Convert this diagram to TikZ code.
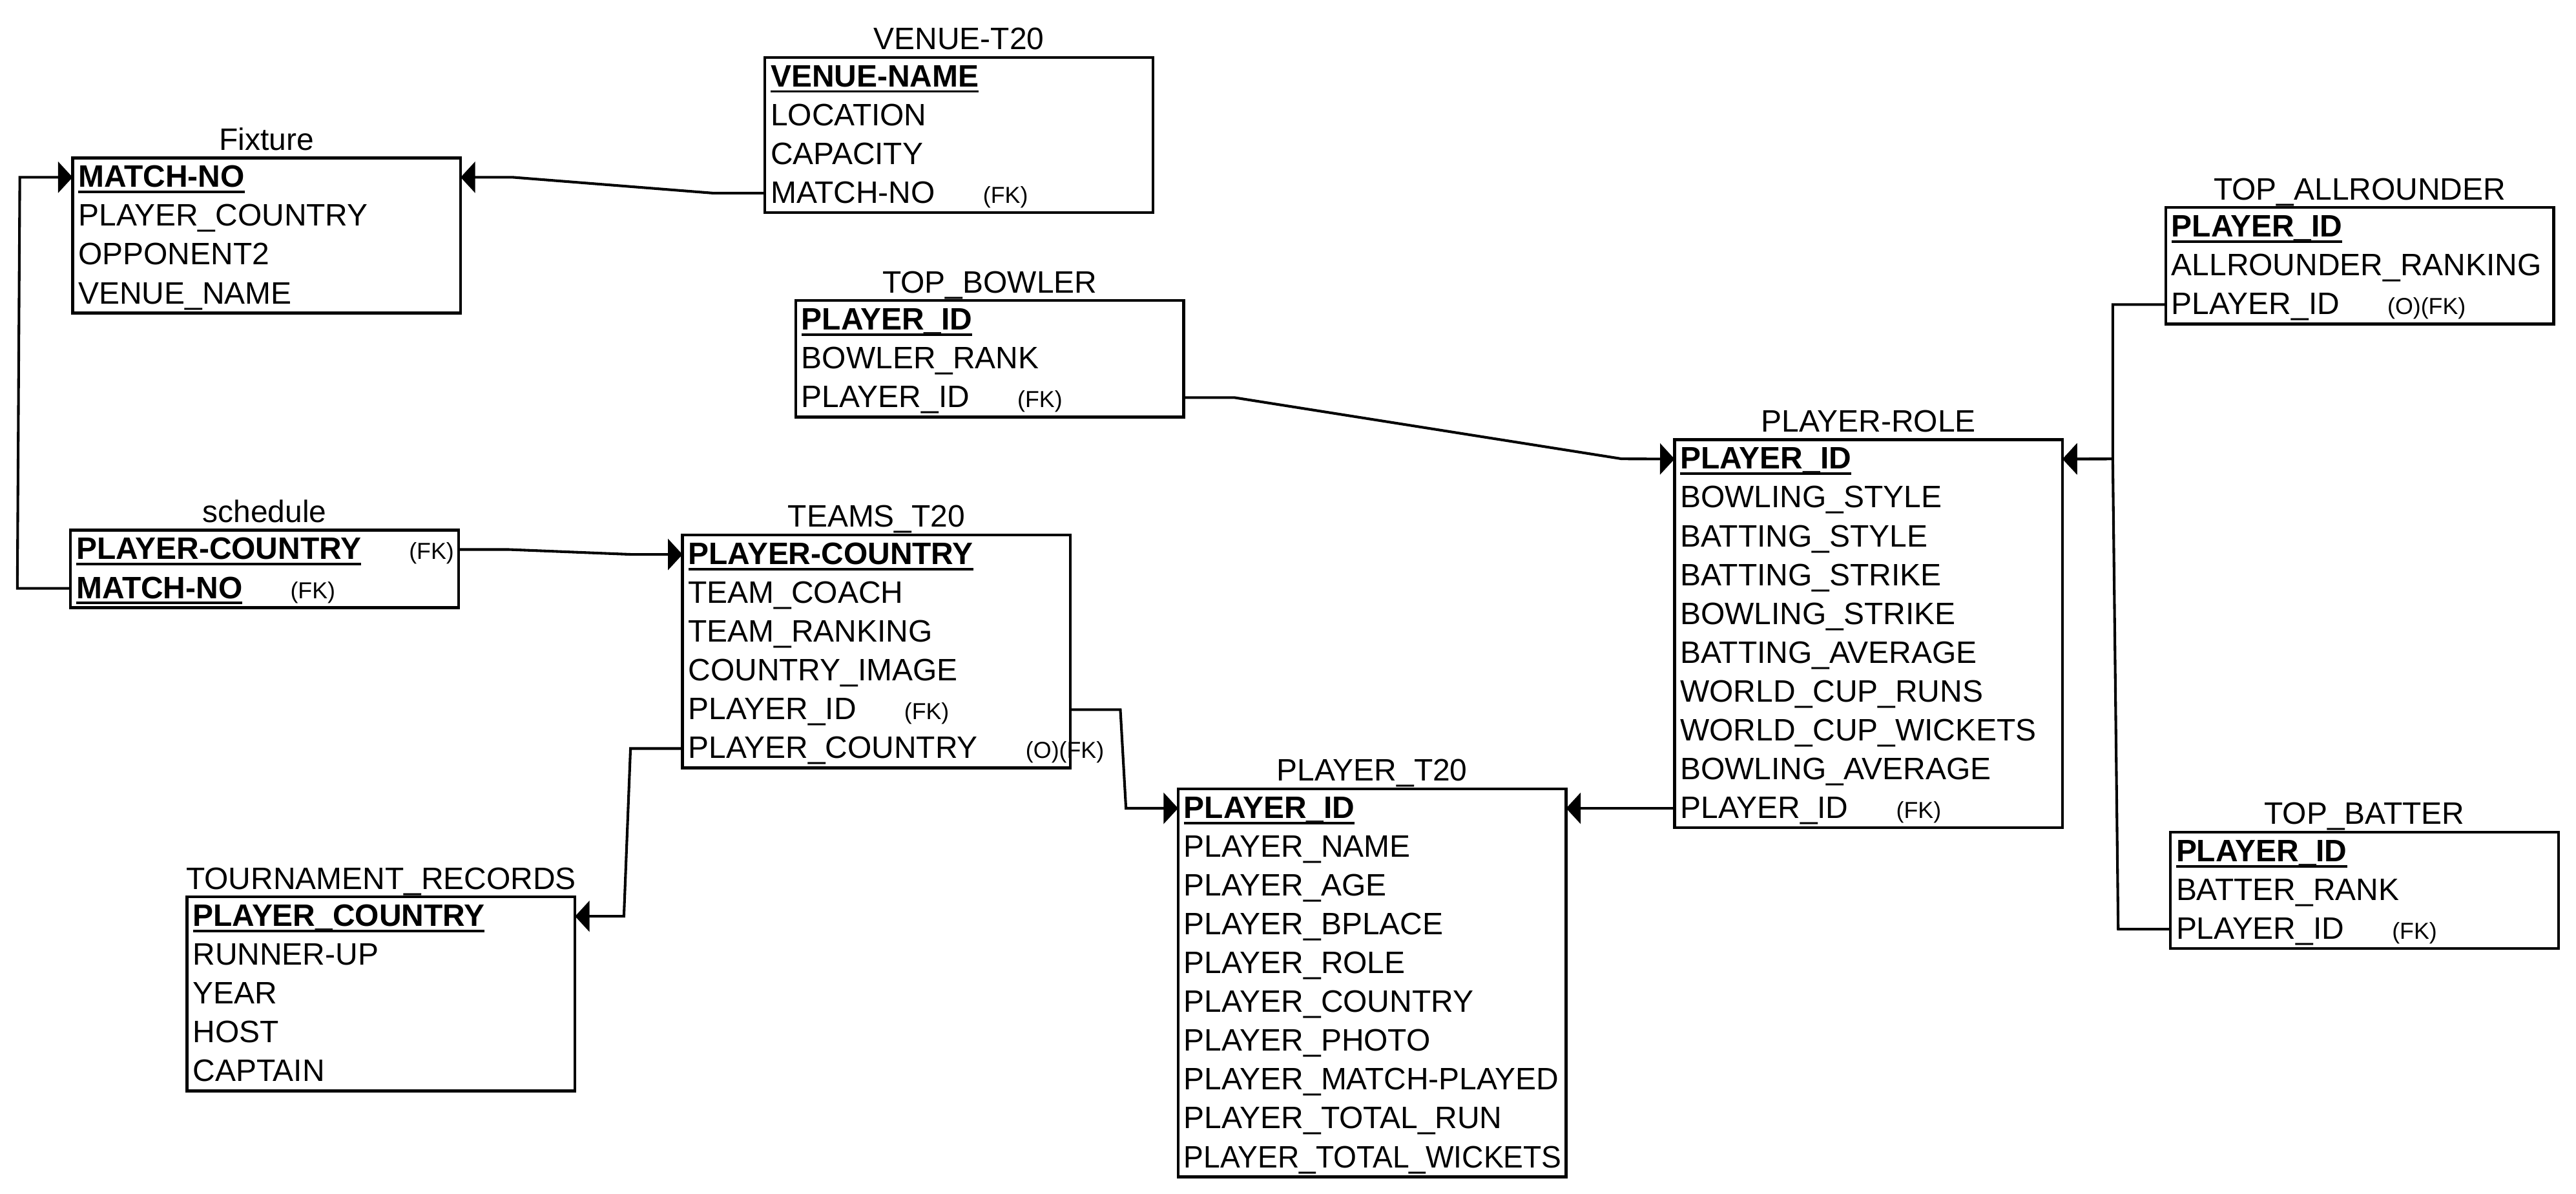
\documentclass[tikz,border=0pt]{standalone}
\usepackage{fontspec}
\setmainfont{Liberation Sans}
\usepackage{graphicx}
\usepackage{tikz}
\usetikzlibrary{arrows.meta,positioning,fit}

\hyphenpenalty=10000
\exhyphenpenalty=10000
\newsavebox\pkbox
\newcommand\pk[1]{\sbox\pkbox{\bfseries #1}\rlap{\rule[-3.6pt]{\wd\pkbox}{1.5pt}}\usebox\pkbox}
\newcommand\fk[1]{\kern29pt{\fontsize{14}{16}\selectfont #1}}

\begin{document}
\begin{tikzpicture}[x=1pt,y=-1pt]
	\tikzset{
		attr/.style={anchor=north west,inner xsep=3.5pt,inner ysep=0pt,outer sep=0pt,
			text width=228pt,align=left,minimum height=23.5pt,text height=13.4pt,text depth=1.3pt,
			font=\fontsize{18.75}{22}\selectfont},
		entity/.style={draw,line width=1.7pt,inner sep=0pt},
		tbltitle/.style={anchor=base,yshift=3.9pt,font=\fontsize{18.75}{22}\selectfont},
		fkline/.style={line width=1.6pt,-{Triangle[length=8.8pt,width=18.7pt]}}
	}
	\useasboundingbox (0,0) rectangle (1560.3,723);

	\node[attr] (venue1) at (463.3,34.7) {\pk{VENUE-NAME}};
	\node[attr,below=0pt of venue1] (venue2) {LOCATION};
	\node[attr,below=0pt of venue2] (venue3) {CAPACITY};
	\node[attr,below=0pt of venue3] (venue4) {MATCH-NO\fk{(FK)}};
	\node[entity,fit=(venue1)(venue4)] (venue) {};
	\node[tbltitle] at (venue.north) {VENUE-T20};

	\node[attr] (fix1) at (44,95.6) {\pk{MATCH-NO}};
	\node[attr,below=0pt of fix1] (fix2) {PLAYER\_COUNTRY};
	\node[attr,below=0pt of fix2] (fix3) {OPPONENT2};
	\node[attr,below=0pt of fix3] (fix4) {VENUE\_NAME};
	\node[entity,fit=(fix1)(fix4)] (fix) {};
	\node[tbltitle] at (fix.north) {Fixture};

	\node[attr] (bowl1) at (482,182) {\pk{PLAYER\_ID}};
	\node[attr,below=0pt of bowl1] (bowl2) {BOWLER\_RANK};
	\node[attr,below=0pt of bowl2] (bowl3) {PLAYER\_ID\fk{(FK)}};
	\node[entity,fit=(bowl1)(bowl3)] (bowl) {};
	\node[tbltitle] at (bowl.north) {TOP\_BOWLER};

	\node[attr] (sched1) at (42.7,321) {\pk{PLAYER-COUNTRY}\fk{(FK)}};
	\node[attr,below=0pt of sched1] (sched2) {\pk{MATCH-NO}\fk{(FK)}};
	\node[entity,fit=(sched1)(sched2)] (sched) {};
	\node[tbltitle] at (sched.north) {schedule};

	\node[attr] (teams1) at (413.4,324) {\pk{PLAYER-COUNTRY}};
	\node[attr,below=0pt of teams1] (teams2) {TEAM\_COACH};
	\node[attr,below=0pt of teams2] (teams3) {TEAM\_RANKING};
	\node[attr,below=0pt of teams3] (teams4) {COUNTRY\_IMAGE};
	\node[attr,below=0pt of teams4] (teams5) {PLAYER\_ID\fk{(FK)}};
	\node[attr,below=0pt of teams5] (teams6) {PLAYER\_COUNTRY\fk{(O)(FK)}};
	\node[entity,fit=(teams1)(teams6)] (teams) {};
	\node[tbltitle] at (teams.north) {TEAMS\_T20};

	\node[attr] (tour1) at (113.3,543.1) {\pk{PLAYER\_COUNTRY}};
	\node[attr,below=0pt of tour1] (tour2) {RUNNER-UP};
	\node[attr,below=0pt of tour2] (tour3) {YEAR};
	\node[attr,below=0pt of tour3] (tour4) {HOST};
	\node[attr,below=0pt of tour4] (tour5) {CAPTAIN};
	\node[entity,fit=(tour1)(tour5)] (tour) {};
	\node[tbltitle] at (tour.north) {TOURNAMENT\_RECORDS};

	\node[attr] (player1) at (713.6,477.7) {\pk{PLAYER\_ID}};
	\node[attr,below=0pt of player1] (player2) {PLAYER\_NAME};
	\node[attr,below=0pt of player2] (player3) {PLAYER\_AGE};
	\node[attr,below=0pt of player3] (player4) {PLAYER\_BPLACE};
	\node[attr,below=0pt of player4] (player5) {PLAYER\_ROLE};
	\node[attr,below=0pt of player5] (player6) {PLAYER\_COUNTRY};
	\node[attr,below=0pt of player6] (player7) {PLAYER\_PHOTO};
	\node[attr,below=0pt of player7] (player8) {PLAYER\_MATCH-PLAYED};
	\node[attr,below=0pt of player8] (player9) {PLAYER\_TOTAL\_RUN};
	\node[attr,below=0pt of player9] (player10) {\scalebox{0.963}[1]{PLAYER\_TOTAL\_WICKETS}};
	\node[entity,fit=(player1)(player10)] (player) {};
	\node[tbltitle] at (player.north) {PLAYER\_T20};

	\node[attr] (role1) at (1014.3,266.2) {\pk{PLAYER\_ID}};
	\node[attr,below=0pt of role1] (role2) {BOWLING\_STYLE};
	\node[attr,below=0pt of role2] (role3) {BATTING\_STYLE};
	\node[attr,below=0pt of role3] (role4) {BATTING\_STRIKE};
	\node[attr,below=0pt of role4] (role5) {BOWLING\_STRIKE};
	\node[attr,below=0pt of role5] (role6) {BATTING\_AVERAGE};
	\node[attr,below=0pt of role6] (role7) {WORLD\_CUP\_RUNS};
	\node[attr,below=0pt of role7] (role8) {WORLD\_CUP\_WICKETS};
	\node[attr,below=0pt of role8] (role9) {BOWLING\_AVERAGE};
	\node[attr,below=0pt of role9] (role10) {PLAYER\_ID\fk{(FK)}};
	\node[entity,fit=(role1)(role10)] (role) {};
	\node[tbltitle] at (role.north) {PLAYER-ROLE};

	\node[attr] (allr1) at (1311.8,125.7) {\pk{PLAYER\_ID}};
	\node[attr,below=0pt of allr1] (allr2) {ALLROUNDER\_RANKING};
	\node[attr,below=0pt of allr2] (allr3) {PLAYER\_ID\fk{(O)(FK)}};
	\node[entity,fit=(allr1)(allr3)] (allr) {};
	\node[tbltitle] at (allr.north) {TOP\_ALLROUNDER};

	\node[attr] (bat1) at (1314.6,503.9) {\pk{PLAYER\_ID}};
	\node[attr,below=0pt of bat1] (bat2) {BATTER\_RANK};
	\node[attr,below=0pt of bat2] (bat3) {PLAYER\_ID\fk{(FK)}};
	\node[entity,fit=(bat1)(bat3)] (bat) {};
	\node[tbltitle] at (bat.north) {TOP\_BATTER};

	\draw[fkline] (venue4.west) -- (432,116.95) -- (310.6,107.35) -- (fix1.east);
	\draw[fkline] (sched2.west) -- (10.5,356.25) -- (12,107.35) -- (fix1.west);
	\draw[fkline] (sched1.east) -- (308,332.75) -- (383,335.75) -- (teams1.west);
	\draw[fkline] (teams5.east) -- (678.6,429.75) -- (682,489.45) -- (player1.west);
	\draw[fkline] (teams6.west) -- (381.9,453.25) -- (377.9,554.85) -- (tour1.east);
	\draw[fkline] (bowl3.east) -- (747.7,240.75) -- (982.3,277.85) -- (role1.west);
	\draw[fkline] (role10.west) -- (player1.east);
	\draw[fkline] (allr3.west) -- (1279.7,184.45) -- (1279.7,277.85) -- (role1.east);
	\draw[fkline] (bat3.west) -- (1283,562.65) -- (1279.7,277.85) -- (role1.east);
\end{tikzpicture}
\end{document}
